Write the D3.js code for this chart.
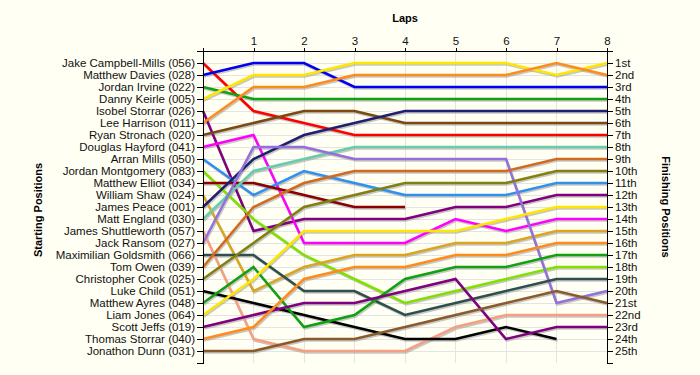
<!DOCTYPE html>
<html>
<head>
<meta charset="utf-8">
<script src="https://cdn.jsdelivr.net/npm/d3@7"></script>
<style>
body { margin: 0; background: #FFFFF4; }
svg { display: block; }
.axis text { font-family: "Liberation Sans", Arial, sans-serif; font-size: 11.5px; fill: #111; }
.axis path, .axis line { stroke: #000; shape-rendering: crispEdges; }
.title { font-family: "Liberation Sans", Arial, sans-serif; font-size: 11px; font-weight: bold; fill: #000; }
</style>
</head>
<body>
<div id="chart"></div>
<script>
var drivers = [
    "Jake Campbell-Mills (056)", "Matthew Davies (028)", "Jordan Irvine (022)", "Danny Keirle (005)",
    "Isobel Storrar (026)", "Lee Harrison (011)", "Ryan Stronach (020)", "Douglas Hayford (041)",
    "Arran Mills (050)", "Jordan Montgomery (083)", "Matthew Elliot (034)", "William Shaw (024)",
    "James Peace (001)", "Matt England (030)", "James Shuttleworth (057)", "Jack Ransom (027)",
    "Maximilian Goldsmith (066)", "Tom Owen (039)", "Christopher Cook (025)", "Luke Child (051)",
    "Matthew Ayres (048)", "Liam Jones (064)", "Scott Jeffs (019)", "Thomas Storrar (040)",
    "Jonathon Dunn (031)"
];
var lineColors = [
    "#FF0000", "#0000EE", "#10A010", "#FFE600", "#800080", "#FF8C1A", "#7B4A12", "#FF00FF",
    "#3090F0", "#80E000", "#8B0000", "#DAA520", "#202070", "#66CDAA", "#F5A080", "#9370DB",
    "#2F4F4F", "#D2691E", "#808010", "#000000", "#10A010", "#FFE600", "#800080", "#FF8C1A",
    "#8B5A2B"
];
var laps = [0, 1, 2, 3, 4, 5, 6, 7, 8];
var lapLabels = ["", "1", "2", "3", "4", "5", "6", "7", "8"];
// position of each driver after each lap (null = retired)
var positions = [
    [1, 5, 6, 7, 7, 7, 7, 7, 7],
    [2, 1, 1, 3, 3, 3, 3, 3, 3],
    [3, 4, 4, 4, 4, 4, 4, 4, 4],
    [4, 2, 2, 1, 1, 1, 1, 2, 1],
    [5, 15, 14, 14, 14, 13, 13, 12, 12],
    [6, 3, 3, 2, 2, 2, 2, 1, 2],
    [7, 6, 5, 5, 6, 6, 6, 6, 6],
    [8, 7, 16, 16, 16, 14, 15, 14, 14],
    [9, 12, 10, 11, 12, 12, 12, 11, 11],
    [10, 14, 17, 19, 21, 20, 19, 18, 18],
    [11, 11, 12, 13, 13, null, null, null, null],
    [12, 20, 18, 17, 17, 16, 16, 15, 15],
    [13, 9, 7, 6, 5, 5, 5, 5, 5],
    [14, 10, 9, 8, 8, 8, 8, 8, 8],
    [15, 24, 25, 25, 25, 23, 22, 22, 22],
    [16, 8, 8, 9, 9, 9, 9, 21, 20],
    [17, 17, 20, 20, 22, 21, 20, 19, 19],
    [18, 13, 11, 10, 10, 10, 10, 9, 9],
    [19, 16, 13, 12, 11, 11, 11, 10, 10],
    [20, 21, 22, 23, 24, 24, 23, 24, null],
    [21, 18, 23, 22, 19, 18, 18, 17, 17],
    [22, 19, 15, 15, 15, 15, 14, 13, 13],
    [23, 22, 21, 21, 20, 19, 24, 23, 23],
    [24, 23, 19, 18, 18, 17, 17, 16, 16],
    [25, 25, 24, 24, 23, 22, 21, 20, 21]
];
var finishLabels = ["1st", "2nd", "3rd", "4th", "5th", "6th", "7th", "8th", "9th", "10th",
    "11th", "12th", "13th", "14th", "15th", "16th", "17th", "18th", "19th", "20th",
    "21st", "22nd", "23rd", "24th", "25th"];

function drawChart() {
    var width = 700, height = 375;
    var margin = { top: 51, right: 93, bottom: 12, left: 203 };
    var svg = d3.select("#chart").append("svg")
        .attr("width", width).attr("height", height);

    var x = d3.scaleLinear().domain([0, 8]).range([margin.left, width - margin.right]);
    var y = d3.scaleLinear().domain([0, 26]).range([margin.top, height - margin.bottom]);
    var ranks = d3.range(1, 26);

    // grid
    var grid = svg.append("g");
    grid.selectAll(".hgrid").data(ranks).enter().append("line")
        .attr("x1", x(0)).attr("x2", x(8))
        .attr("y1", function (d) { return y(d); }).attr("y2", function (d) { return y(d); })
        .attr("stroke", "#E4E4E4").attr("shape-rendering", "crispEdges");
    grid.selectAll(".vgrid").data(laps.slice(1)).enter().append("line")
        .attr("y1", y(0)).attr("y2", y(26))
        .attr("x1", function (d) { return x(d); }).attr("x2", function (d) { return x(d); })
        .attr("stroke", "#E4E4E4").attr("shape-rendering", "crispEdges");

    var line = d3.line()
        .defined(function (d) { return d != null; })
        .x(function (d, i) { return x(laps[i]); })
        .y(function (d) { return y(d); });

    // shadows first, then the coloured lines
    svg.append("g").attr("transform", "translate(1,1.5)")
        .selectAll("path").data(positions).enter().append("path")
        .attr("d", line)
        .attr("fill", "none")
        .attr("stroke", "#9A9A9A")
        .attr("stroke-opacity", 0.55)
        .attr("stroke-width", 2.5);
    svg.append("g")
        .selectAll("path").data(positions).enter().append("path")
        .attr("d", line)
        .attr("fill", "none")
        .attr("stroke", function (d, i) { return lineColors[i]; })
        .attr("stroke-width", 2.5)
        .attr("stroke-linejoin", "miter");

    // axes
    svg.append("g").attr("class", "axis")
        .attr("transform", "translate(" + margin.left + ",0)")
        .call(d3.axisLeft(y).tickValues(ranks).tickSize(6).tickPadding(2)
            .tickFormat(function (d) { return drivers[d - 1]; }));
    svg.append("g").attr("class", "axis")
        .attr("transform", "translate(" + (width - margin.right) + ",0)")
        .call(d3.axisRight(y).tickValues(ranks).tickSize(6).tickPadding(2)
            .tickFormat(function (d) { return finishLabels[d - 1]; }));
    svg.append("g").attr("class", "axis")
        .attr("transform", "translate(0," + margin.top + ")")
        .call(d3.axisTop(x).tickValues(laps).tickSize(3).tickSizeOuter(0).tickPadding(3)
            .tickFormat(function (d) { return lapLabels[d]; }));

    // titles
    svg.append("text").attr("class", "title")
        .attr("x", 405).attr("y", 22).attr("text-anchor", "middle")
        .text("Laps");
    svg.append("text").attr("class", "title")
        .attr("transform", "translate(42,210) rotate(-90)").attr("text-anchor", "middle")
        .text("Starting Positions");
    svg.append("text").attr("class", "title")
        .attr("transform", "translate(662,207) rotate(90)").attr("text-anchor", "middle")
        .text("Finishing Positions");
}

drawChart();
</script>
</body>
</html>
